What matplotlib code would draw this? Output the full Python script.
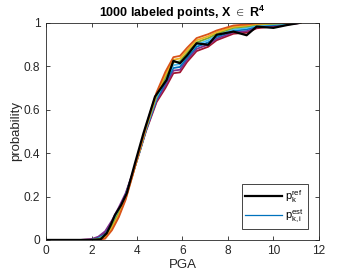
import numpy as np
import matplotlib
matplotlib.use("Agg")
from matplotlib import pyplot as plt

plt.rcParams['font.family'] = ['Liberation Sans', 'DejaVu Sans']
plt.rcParams['mathtext.fontset'] = 'custom'
plt.rcParams['mathtext.rm'] = 'Liberation Sans'
plt.rcParams['mathtext.bf'] = 'Liberation Sans:bold'

# reference curve
x_ref = [0, 1.0, 2.0, 2.4, 2.67, 2.85, 3.03, 3.3, 3.55, 3.91, 4.28, 4.79, 5.3,
         5.6, 5.89, 6.2, 6.62, 7.13, 7.5, 8.24, 8.82, 9.26, 10.0, 10.6, 11.16]
y_ref = [0, 0, 0, 0.003, 0.031, 0.07, 0.115, 0.16, 0.215, 0.353, 0.49, 0.66, 0.737,
         0.825, 0.814, 0.85, 0.906, 0.899, 0.945, 0.96, 0.943, 0.983, 0.977, 0.99, 1.0]

# estimated curves
x_est = [0, 1.5, 2.0, 2.3, 2.6, 2.9, 3.2, 3.5, 3.8, 4.1, 4.4, 4.86, 5.25, 5.6, 5.89,
         6.2, 6.62, 7.13, 7.5, 8.24, 8.82, 9.26, 10.0, 10.6, 11.2]
est_orange = [0, 0, 0, 0, 0.006, 0.045, 0.105, 0.185, 0.295, 0.41, 0.525, 0.68, 0.775, 0.842, 0.848,
              0.885, 0.93, 0.948, 0.965, 0.988, 0.993, 0.998, 1.0, 1.0, 1.0]
est_yellow = [0, 0, 0, 0.002, 0.012, 0.055, 0.115, 0.19, 0.297, 0.408, 0.521, 0.672, 0.762, 0.83, 0.836,
              0.873, 0.92, 0.938, 0.957, 0.982, 0.988, 0.995, 0.998, 1.0, 1.0]
est_green = [0, 0, 0, 0.004, 0.018, 0.065, 0.125, 0.195, 0.299, 0.406, 0.517, 0.664, 0.75, 0.818, 0.823,
             0.862, 0.91, 0.93, 0.95, 0.977, 0.983, 0.992, 0.996, 0.999, 1.0]
est_cyan = [0, 0, 0, 0.006, 0.022, 0.07, 0.13, 0.2, 0.3, 0.404, 0.513, 0.657, 0.738, 0.805, 0.81,
            0.85, 0.9, 0.92, 0.942, 0.97, 0.977, 0.988, 0.994, 0.998, 1.0]
est_blue = [0, 0, 0, 0.008, 0.026, 0.075, 0.135, 0.205, 0.301, 0.402, 0.51, 0.65, 0.725, 0.792, 0.797,
            0.84, 0.89, 0.91, 0.935, 0.964, 0.97, 0.984, 0.99, 0.996, 1.0]
est_purple = [0, 0, 0.004, 0.015, 0.04, 0.09, 0.15, 0.215, 0.305, 0.403, 0.506, 0.642, 0.712, 0.78, 0.784,
              0.83, 0.88, 0.9, 0.927, 0.957, 0.962, 0.98, 0.987, 0.994, 1.0]
est_red = [0, 0, 0.002, 0.012, 0.034, 0.085, 0.14, 0.21, 0.303, 0.40, 0.503, 0.635, 0.70, 0.768, 0.772,
           0.82, 0.87, 0.89, 0.92, 0.95, 0.955, 0.975, 0.984, 0.992, 1.0]

est_curves = [est_red, est_purple, est_blue, est_cyan, est_green, est_yellow, est_orange]
est_colors = ['#A2142F', '#7E2F8E', '#0072BD', '#4DBEEE', '#77AC30', '#EDB120', '#D95319']

fig = plt.figure(figsize=(3.54, 2.79), dpi=100)
ax = fig.add_axes([0.130, 0.140, 0.771, 0.778])

for ys, c in zip(est_curves, est_colors):
    ax.plot(x_est, ys, color=c, lw=1.3)
h_est, = ax.plot([], [], color='#0072BD', lw=0.9)
h_ref, = ax.plot(x_ref, y_ref, color='black', lw=1.6)

ax.set_xlim(0, 12)
ax.set_ylim(0, 1)
ax.set_xticks([0, 2, 4, 6, 8, 10, 12])
ax.set_yticks([0, 0.2, 0.4, 0.6, 0.8, 1])
ax.set_yticklabels(['0', '0.2', '0.4', '0.6', '0.8', '1'])
ax.tick_params(direction='in', top=True, right=True, length=3, width=0.6,
               labelsize=8.6, colors='#262626', pad=4)
for s in ax.spines.values():
    s.set_linewidth(0.6)
    s.set_color('#262626')

ax.set_xlabel('PGA', fontsize=9.5, color='#262626', labelpad=1)
ax.set_ylabel('probability', fontsize=9.5, color='#262626', labelpad=1)
ax.set_title(r'1000 labeled points, X $\in$ $\mathbf{R}^\mathbf{4}$', fontsize=9,
             fontweight='bold', color='black', pad=4)

leg = ax.legend([h_ref, h_est],
                [r'$\mathregular{p_k^{ref}}$', r'$\mathregular{p_{k,i}^{est}}$'],
                loc='lower right', bbox_to_anchor=(0.96, 0.05), borderaxespad=0,
                fontsize=8, handlelength=3.3, fancybox=False, framealpha=1,
                edgecolor='#262626', borderpad=0.35, labelspacing=0.3, handletextpad=0.3)
leg.get_frame().set_linewidth(0.6)

fig.savefig('out.png', dpi=100)
